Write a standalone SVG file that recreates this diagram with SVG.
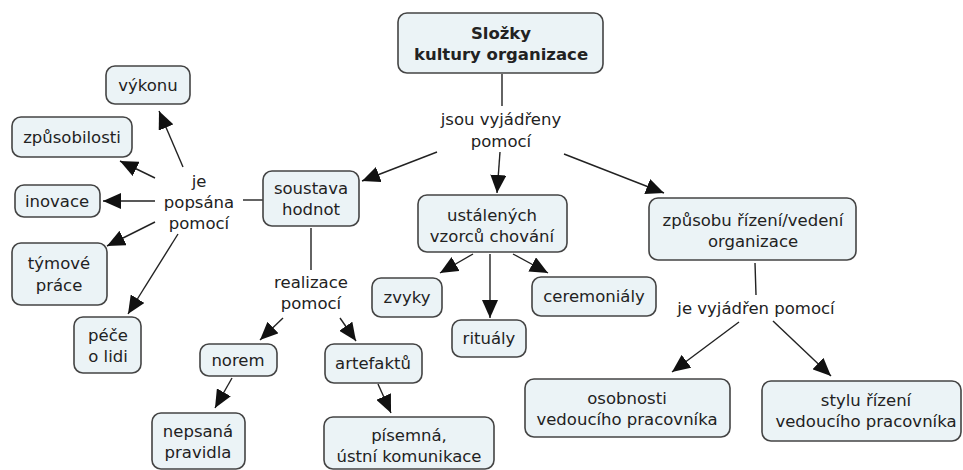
<svg xmlns="http://www.w3.org/2000/svg" width="963" height="470" viewBox="0 0 963 470">
  <style>
    .box { fill: #ebf3f6; stroke: #444; stroke-width: 1.6; }
    .t { font-family: "DejaVu Sans", Verdana, sans-serif; font-size: 16.5px; fill: #222; text-anchor: middle; }
    .b { font-weight: bold; font-size: 16.5px; }
    .c { stroke: #222; stroke-width: 1.4; fill: none; }
    .a { marker-end: url(#arr); }
  </style>
  <defs>
    <marker id="arr" markerUnits="userSpaceOnUse" markerWidth="20" markerHeight="16" refX="18" refY="8" orient="auto">
      <path d="M0,0 L18,8 L0,16 Z" fill="#111"/>
    </marker>
  </defs>

  <!-- connectors -->
  <g id="connectors">
    <line class="c" x1="502" y1="74" x2="502" y2="106"/>
    <line class="c a" x1="437" y1="152" x2="362" y2="181"/>
    <line class="c a" x1="500" y1="152" x2="497" y2="193"/>
    <line class="c a" x1="564" y1="154" x2="664" y2="193"/>

    <line class="c" x1="243" y1="200" x2="263" y2="200"/>
    <line class="c a" x1="183" y1="167" x2="159" y2="111"/>
    <line class="c a" x1="155" y1="178" x2="120" y2="161"/>
    <line class="c a" x1="155" y1="201" x2="103" y2="201"/>
    <line class="c a" x1="155" y1="222" x2="107" y2="246"/>
    <line class="c a" x1="178" y1="234" x2="128" y2="314"/>

    <line class="c" x1="311" y1="228" x2="311" y2="270"/>
    <line class="c a" x1="283" y1="318" x2="260" y2="340"/>
    <line class="c a" x1="340" y1="318" x2="356" y2="341"/>
    <line class="c a" x1="232" y1="378" x2="215" y2="408"/>
    <line class="c a" x1="378" y1="384" x2="391" y2="413"/>

    <line class="c a" x1="473" y1="254" x2="440" y2="273"/>
    <line class="c a" x1="490" y1="254" x2="490" y2="318"/>
    <line class="c a" x1="513" y1="254" x2="548" y2="273"/>

    <line class="c" x1="755" y1="263" x2="756" y2="295"/>
    <line class="c a" x1="739" y1="322" x2="672" y2="372"/>
    <line class="c a" x1="773" y1="321" x2="831" y2="376"/>
  </g>

  <!-- linking phrases -->
  <g id="links">
    <text class="t" x="501" y="125">jsou vyjádřeny</text>
    <text class="t" x="501" y="147">pomocí</text>
    <text class="t" x="199" y="187">je</text>
    <text class="t" x="199" y="208">popsána</text>
    <text class="t" x="199" y="229">pomocí</text>
    <text class="t" x="311" y="288">realizace</text>
    <text class="t" x="311" y="309">pomocí</text>
    <text class="t" x="756" y="314">je vyjádřen pomocí</text>
  </g>

  <g id="slozky">
    <rect class="box" x="398" y="13" width="205" height="60" rx="9"/>
    <text class="t b" x="501" y="39">Složky</text>
    <text class="t b" x="501" y="60">kultury organizace</text>
  </g>
  <g id="soustava">
    <rect class="box" x="263" y="171" width="96" height="55" rx="9"/>
    <text class="t" x="311" y="194">soustava</text>
    <text class="t" x="311" y="215">hodnot</text>
  </g>
  <g id="vzorcu">
    <rect class="box" x="418" y="195" width="149" height="57" rx="9"/>
    <text class="t" x="492" y="221">ustálených</text>
    <text class="t" x="492" y="242">vzorců chování</text>
  </g>
  <g id="zpusobu">
    <rect class="box" x="649" y="198" width="207" height="62" rx="9"/>
    <text class="t" x="753" y="226">způsobu řízení/vedení</text>
    <text class="t" x="753" y="247">organizace</text>
  </g>

  <g id="vykonu">
    <rect class="box" x="106" y="66" width="84" height="38" rx="9"/>
    <text class="t" x="148" y="91">výkonu</text>
  </g>
  <g id="zpusobilosti">
    <rect class="box" x="12" y="117" width="120" height="40" rx="9"/>
    <text class="t" x="72" y="143">způsobilosti</text>
  </g>
  <g id="inovace">
    <rect class="box" x="15" y="185" width="85" height="32" rx="9"/>
    <text class="t" x="57" y="207">inovace</text>
  </g>
  <g id="tymove">
    <rect class="box" x="12" y="243" width="95" height="62" rx="9"/>
    <text class="t" x="59" y="269">týmové</text>
    <text class="t" x="59" y="291">práce</text>
  </g>
  <g id="pece">
    <rect class="box" x="74" y="317" width="67" height="56" rx="9"/>
    <text class="t" x="108" y="341">péče</text>
    <text class="t" x="108" y="362">o lidi</text>
  </g>

  <g id="norem">
    <rect class="box" x="200" y="344" width="77" height="32" rx="9"/>
    <text class="t" x="238" y="366">norem</text>
  </g>
  <g id="artefaktu">
    <rect class="box" x="325" y="344" width="97" height="39" rx="9"/>
    <text class="t" x="373" y="369">artefaktů</text>
  </g>
  <g id="nepsana">
    <rect class="box" x="152" y="413" width="93" height="56" rx="9"/>
    <text class="t" x="198" y="437">nepsaná</text>
    <text class="t" x="198" y="458">pravidla</text>
  </g>
  <g id="pisemna">
    <rect class="box" x="324" y="417" width="170" height="52" rx="9"/>
    <text class="t" x="409" y="441">písemná,</text>
    <text class="t" x="409" y="462">ústní komunikace</text>
  </g>

  <g id="zvyky">
    <rect class="box" x="372" y="278" width="70" height="39" rx="9"/>
    <text class="t" x="407" y="303">zvyky</text>
  </g>
  <g id="ritualy">
    <rect class="box" x="452" y="320" width="74" height="37" rx="9"/>
    <text class="t" x="489" y="344">rituály</text>
  </g>
  <g id="ceremonialy">
    <rect class="box" x="532" y="277" width="124" height="39" rx="9"/>
    <text class="t" x="594" y="302">ceremoniály</text>
  </g>

  <g id="osobnosti">
    <rect class="box" x="525" y="379" width="205" height="58" rx="9"/>
    <text class="t" x="627" y="404">osobnosti</text>
    <text class="t" x="627" y="425">vedoucího pracovníka</text>
  </g>
  <g id="stylu">
    <rect class="box" x="762" y="381" width="199" height="60" rx="9"/>
    <text class="t" x="866" y="406">stylu řízení</text>
    <text class="t" x="866" y="427">vedoucího pracovníka</text>
  </g>
</svg>
